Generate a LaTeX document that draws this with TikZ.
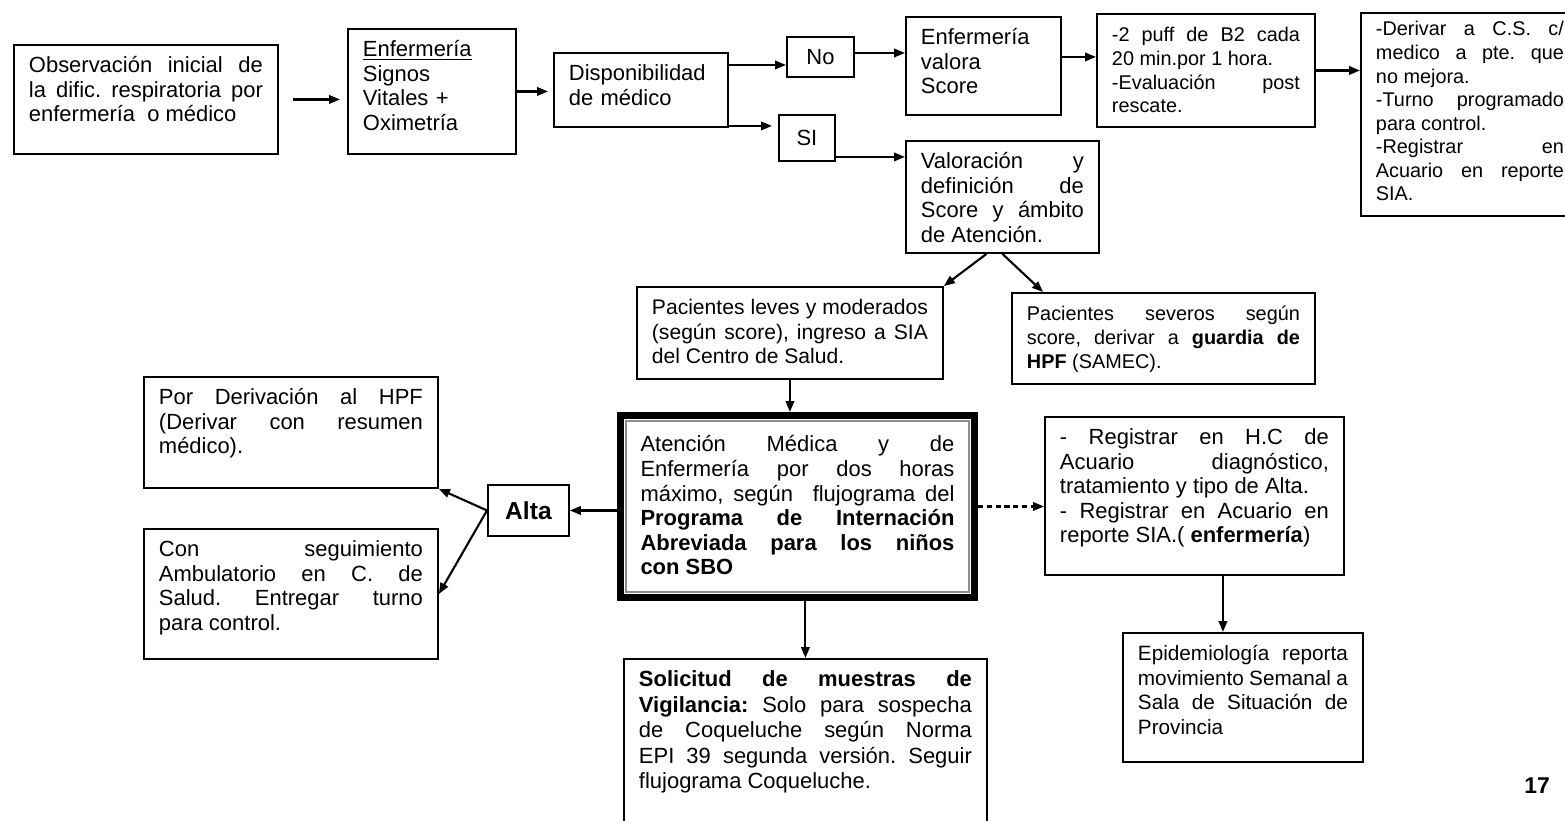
\documentclass[tikz,border=0pt]{standalone}
\usepackage{fontspec}
\setmainfont{Liberation Sans}
\usetikzlibrary{arrows.meta}
\tolerance=9999
\hyphenpenalty=10000
\frenchspacing

\begin{document}
\begin{tikzpicture}[
  x=0.02cm, y=-0.02cm,
  box/.style={rectangle, draw, line width=1.1pt, anchor=north west,
              inner xsep=0.3cm, inner ysep=0.16cm, text height=0.4cm,
              align=justify, font=\fontsize{12.5}{13.9}\selectfont},
  boxs/.style={box, font=\fontsize{11.3}{13.4}\selectfont},
  tag/.style={rectangle, draw, line width=1.1pt, anchor=north west,
              inner sep=0pt, font=\fontsize{12.5}{14}\selectfont},
  arr/.style={-{Triangle[length=0.22cm, width=0.17cm]}, line width=1.2pt},
]
\path[use as bounding box, fill=white] (0,0) rectangle (1565,821);
\clip (0,0) rectangle (1565,821);
% Fila superior
\node[box, text width=4.68cm, text depth=1.46cm] (obs) at (13,44)
  {Observación inicial de \linebreak la dific. respiratoria por \linebreak enfermería~~o médico};
\node[box, align=left, text width=2.76cm, text depth=1.78cm] (enf) at (347,28)
  {\underline{Enfermería}\\ Signos\\ Vitales +\\ Oximetría};
\node[box, align=left, text width=2.88cm, text depth=0.76cm] (disp) at (553,52)
  {Disponibilidad\\ de médico};
\node[tag, minimum width=1.34cm, minimum height=0.8cm] (no) at (786,36) {No};
\node[tag, minimum width=1.12cm, minimum height=0.92cm] (si) at (778,114) {SI};
\node[box, align=left, text width=2.5cm, text depth=1.24cm] (valora) at (905,16)
  {Enfermería\\ valora\\ Score};
\node[boxs, text width=3.76cm, text depth=1.54cm] (puff) at (1096,13)
  {-2 puff de B2 cada \linebreak 20 min.por 1 hora.\\ -Evaluación post \linebreak rescate.};
\node[boxs, text height=0.3cm, text width=3.76cm, text depth=3.44cm] (derivar) at (1360,12)
  {-Derivar a C.S. c/ \linebreak medico a pte. que \linebreak no mejora.\\ -Turno programado \linebreak para control.\\
   -Registrar en \linebreak Acuario en reporte \linebreak SIA.};
\node[box, text width=3.26cm, text depth=1.52cm] (valoracion) at (905,140)
  {Valoración y \linebreak definición de \linebreak Score y ámbito \linebreak de Atención.};
% Ambito de atencion
\node[box, text width=5.52cm, text depth=1.12cm, font=\fontsize{12}{13.9}\selectfont] (leves) at (636,286)
  {Pacientes leves y moderados \linebreak (según score), ingreso a SIA \linebreak del Centro de Salud.};
\node[boxs, text width=5.46cm, text depth=1.1cm] (severos) at (1011,292)
  {Pacientes severos según \linebreak score, derivar a \textbf{guardia de} \linebreak \textbf{HPF} (SAMEC).};
\node[box, line width=0.14cm, inner xsep=0.4cm, inner ysep=0.33cm,
      text width=6.28cm, text depth=2.58cm, font=\fontsize{12.5}{14}\selectfont] (aten) at (617,412)
  {Atención Médica y de \linebreak Enfermería por dos horas \linebreak máximo, según~ flujograma del \linebreak
   \textbf{Programa de Internación \linebreak Abreviada para los niños \linebreak con SBO}};
\draw[black!45, line width=1.3pt] ([shift={(9,9)}]aten.north west) rectangle ([shift={(-9,-9)}]aten.south east);
\node[box, text width=5.38cm, text depth=2.44cm] (regist) at (1044,416)
  {- Registrar en H.C de \linebreak Acuario diagnóstico, \linebreak tratamiento y tipo de Alta.\\
   - Registrar en Acuario en \linebreak reporte SIA.( \textbf{enfermería})};
\node[box, text width=4.2cm, text depth=1.86cm, font=\fontsize{11.8}{13.9}\selectfont] (epid) at (1122,632)
  {Epidemiología reporta \linebreak movimiento Semanal a \linebreak Sala de Situación de \linebreak Provincia};
\node[box, text width=6.66cm, text depth=2.78cm, font=\fontsize{12.5}{14.5}\selectfont] (solicitud) at (623,658)
  {\textbf{Solicitud de muestras de \linebreak Vigilancia:} Solo para sospecha \linebreak de Coqueluche según Norma \linebreak
   EPI 39 segunda versión. Seguir \linebreak flujograma Coqueluche.};
% Alta
\node[tag, minimum width=1.62cm, minimum height=1.02cm, font=\fontsize{14}{16}\selectfont\bfseries] (alta) at (487,484) {Alta};
\node[box, text width=5.28cm, text depth=1.5cm] (porderiv) at (143,376)
  {Por Derivación al HPF \linebreak (Derivar con resumen \linebreak médico).};
\node[box, text width=5.28cm, text depth=1.88cm] (conseg) at (143,528)
  {Con seguimiento \linebreak Ambulatorio en C. de \linebreak Salud. Entregar turno \linebreak para control.};
\node[font=\fontsize{13}{15}\selectfont\bfseries] (pag) at (1537,786) {17};
% Conectores fila superior
\draw[arr, shorten <=0.28cm, shorten >=0.14cm] (obs.east) -- (obs.east -| enf.west);
\draw[arr, shorten >=0.1cm] (enf.east) -- (enf.east -| disp.west);
\coordinate (dno) at ([yshift=-0.26cm]disp.north east);
\draw[arr] (dno) -- (dno -| no.west);
\coordinate (dsi) at ([yshift=0.04cm]disp.south east);
\draw[arr, shorten >=0.12cm] (dsi) -- (dsi -| si.west);
\coordinate (nov) at ([yshift=0.08cm]no.east);
\draw[arr] (nov) -- (nov -| valora.west);
\coordinate (vp) at ([yshift=0.18cm]valora.east);
\draw[arr] (vp) -- (vp -| puff.west);
\draw[arr] (puff.east) -- (puff.east -| derivar.west);
\coordinate (siv) at ([yshift=0.1cm]si.south east);
\draw[arr] (siv) -- (siv -| valoracion.west);
% Conectores centrales
\draw[arr] ([xshift=-0.32cm]valoracion.south) -- (leves.north east);
\draw[arr] (valoracion.south) -- ([xshift=0.64cm]severos.north west);
\draw[arr] (leves.south) -- (leves.south |- aten.north);
\draw[arr] (alta.east -| aten.west) -- (alta.east);
\draw[arr] (alta.west) -- (porderiv.south east);
\draw[arr] (alta.west) -- (conseg.east);
\draw[arr, densely dashed] (aten.east) -- (aten.east -| regist.west);
\draw[arr] (solicitud.north |- aten.south) -- (solicitud.north);
\coordinate (re) at ([xshift=0.57cm]regist.south);
\draw[arr] (re) -- (re |- epid.north);
\end{tikzpicture}
\end{document}
